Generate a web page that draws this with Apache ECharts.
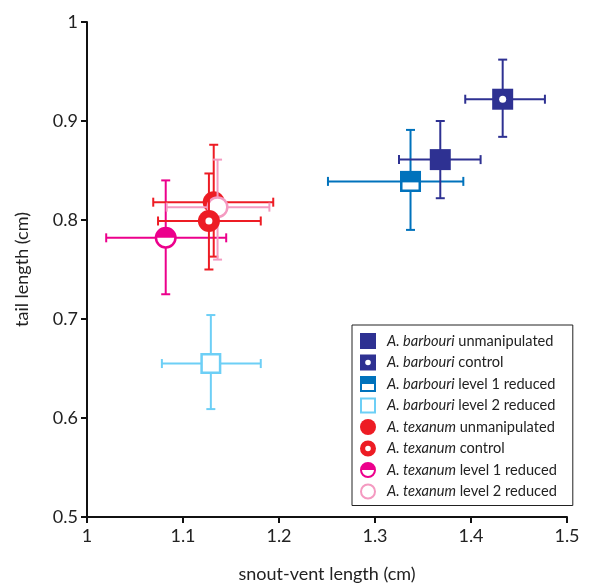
<!DOCTYPE html>
<html>
<head>
<meta charset="utf-8">
<script src="https://cdn.jsdelivr.net/npm/echarts@6/dist/echarts.min.js"></script>
<style>
  html, body { margin: 0; background: #fff; }
  #chart { width: 597px; height: 588px; }
</style>
</head>
<body>
<div id="chart"></div>
<script>
// legend order
var groupNames = [
  'A. barbouri unmanipulated',
  'A. barbouri control',
  'A. barbouri level 1 reduced',
  'A. barbouri level 2 reduced',
  'A. texanum unmanipulated',
  'A. texanum control',
  'A. texanum level 1 reduced',
  'A. texanum level 2 reduced'
]
// snout-vent length (cm): mean and error bar ends
var svlMean = [1.368, 1.433, 1.337, 1.129, 1.132, 1.127, 1.082, 1.136]
var svlLow = [1.325, 1.394, 1.251, 1.078, 1.069, 1.074, 1.020, 1.083]
var svlHigh = [1.410, 1.477, 1.392, 1.181, 1.194, 1.181, 1.145, 1.190]
// tail length (cm): mean and error bar ends
var tailMean = [0.861, 0.922, 0.839, 0.655, 0.818, 0.799, 0.782, 0.813]
var tailLow = [0.822, 0.884, 0.790, 0.609, 0.763, 0.750, 0.725, 0.760]
var tailHigh = [0.900, 0.962, 0.891, 0.704, 0.876, 0.847, 0.840, 0.861]

var colors = ['#2e3192', '#2e3192', '#0072bc', '#6dcff6', '#ed1c24', '#ed1c24', '#ec008c', '#f49ac1']
var shapes = ['square', 'square', 'square', 'square', 'circle', 'circle', 'circle', 'circle']
var fills = ['full', 'dot', 'half', 'open', 'full', 'dot', 'half', 'open']
// drawing order (later = on top)
var drawOrder = [3, 2, 0, 1, 6, 4, 7, 5]

// legend icons, 20x20 box, holes via opposite winding
var ring = 'M0,0L20,0L20,20L0,20Z M2.5,2.5L2.5,17.5L17.5,17.5L17.5,2.5Z'
var cring = 'M10,0A10,10 0 1,1 10,20A10,10 0 1,1 10,0Z M10,2.5A7.5,7.5 0 1,0 10,17.5A7.5,7.5 0 1,0 10,2.5Z'
var icons = {
  'square-full': 'path://M0,0L20,0L20,20L0,20Z',
  'square-dot': 'path://M0,0L20,0L20,20L0,20Z M10,6.5A3.5,3.5 0 1,0 10,13.5A3.5,3.5 0 1,0 10,6.5Z',
  'square-half': 'path://' + ring + ' M2.5,2.5L17.5,2.5L17.5,10L2.5,10Z',
  'square-open': 'path://' + ring,
  'circle-full': 'circle',
  'circle-dot': 'path://M10,0A10,10 0 1,1 10,20A10,10 0 1,1 10,0Z M10,6.5A3.5,3.5 0 1,0 10,13.5A3.5,3.5 0 1,0 10,6.5Z',
  'circle-half': 'path://' + cring + ' M2.5,10A7.5,7.5 0 0,1 17.5,10Z',
  'circle-open': 'path://' + cring
}

var FONT = 'Lato'

function markerShapes (k, c, color) {
  var s = 21
  var h = s / 2
  var lw = 2.5
  var out = []
  if (shapes[k] === 'square') {
    if (fills[k] === 'full' || fills[k] === 'dot') {
      out.push({ type: 'rect', shape: { x: c[0] - h, y: c[1] - h, width: s, height: s }, style: { fill: color } })
    } else {
      out.push({ type: 'rect', shape: { x: c[0] - h + lw / 2, y: c[1] - h + lw / 2, width: s - lw, height: s - lw }, style: { fill: '#fff', stroke: color, lineWidth: lw } })
      if (fills[k] === 'half') {
        out.push({ type: 'rect', shape: { x: c[0] - h, y: c[1] - h, width: s, height: h + 1 }, style: { fill: color } })
      }
    }
  } else {
    var r = 11
    if (fills[k] === 'full' || fills[k] === 'dot') {
      out.push({ type: 'circle', shape: { cx: c[0], cy: c[1], r: r }, style: { fill: color } })
    } else {
      out.push({ type: 'circle', shape: { cx: c[0], cy: c[1], r: r - lw / 2 }, style: { fill: '#fff', stroke: color, lineWidth: lw } })
      if (fills[k] === 'half') {
        out.push({ type: 'sector', shape: { cx: c[0], cy: c[1], r0: 0, r: r - lw / 2, startAngle: Math.PI, endAngle: Math.PI * 2, clockwise: true }, style: { fill: color } })
      }
    }
  }
  if (fills[k] === 'dot') {
    out.push({ type: 'circle', shape: { cx: c[0], cy: c[1], r: 3.5 }, style: { fill: '#fff' } })
  }
  return out
}

function makeRender (k) {
  return function (params, api) {
    var color = colors[k]
    var c = api.coord([api.value(0), api.value(1)])
    var xl = api.coord([api.value(2), api.value(1)])
    var xh = api.coord([api.value(3), api.value(1)])
    var yl = api.coord([api.value(0), api.value(4)])
    var yh = api.coord([api.value(0), api.value(5)])
    var cap = 4.5
    var ls = { stroke: color, lineWidth: 2 }
    var children = [
      { type: 'line', shape: { x1: xl[0], y1: c[1], x2: xh[0], y2: c[1] }, style: ls },
      { type: 'line', shape: { x1: xl[0], y1: c[1] - cap, x2: xl[0], y2: c[1] + cap }, style: ls },
      { type: 'line', shape: { x1: xh[0], y1: c[1] - cap, x2: xh[0], y2: c[1] + cap }, style: ls },
      { type: 'line', shape: { x1: c[0], y1: yl[1], x2: c[0], y2: yh[1] }, style: ls },
      { type: 'line', shape: { x1: c[0] - cap, y1: yl[1], x2: c[0] + cap, y2: yl[1] }, style: ls },
      { type: 'line', shape: { x1: c[0] - cap, y1: yh[1], x2: c[0] + cap, y2: yh[1] }, style: ls }
    ]
    return { type: 'group', children: children.concat(markerShapes(k, c, color)) }
  }
}

var series = drawOrder.map(function (k) {
  return {
    name: groupNames[k],
    type: 'custom',
    itemStyle: { color: colors[k] },
    renderItem: makeRender(k),
    encode: { x: 0, y: 1 },
    data: [[svlMean[k], tailMean[k], svlLow[k], svlHigh[k], tailLow[k], tailHigh[k]]]
  }
})

var legendData = groupNames.map(function (n, k) {
  return { name: n, icon: icons[shapes[k] + '-' + fills[k]], itemStyle: { color: colors[k], borderWidth: 0 } }
})

var chart = echarts.init(document.getElementById('chart'))
chart.setOption({
  animation: false,
  grid: { left: 87, right: 30, top: 22, bottom: 71, outerBoundsMode: 'none' },
  legend: {
    data: legendData,
    orient: 'vertical',
    left: 352,
    top: 325,
    padding: [8, 16, 6, 8],
    itemWidth: 16,
    itemHeight: 16,
    itemGap: 5.5,
    borderColor: '#222',
    borderWidth: 1,
    selectedMode: false,
    formatter: function (name) {
      var p = name.split(' ')
      return '{i|' + p[0] + ' ' + p[1] + '} ' + p.slice(2).join(' ')
    },
    textStyle: {
      fontFamily: FONT,
      fontSize: 14.6,
      color: '#222',
      padding: [0, 0, 0, 6],
      rich: { i: { fontFamily: FONT, fontSize: 14.6, fontStyle: 'italic', color: '#222' } }
    }
  },
  xAxis: {
    type: 'value',
    min: 1,
    max: 1.5,
    interval: 0.1,
    name: 'snout-vent length (cm)',
    nameLocation: 'middle',
    nameGap: 48,
    nameTextStyle: { fontFamily: FONT, fontSize: 18, color: '#222' },
    axisLine: { onZero: false, lineStyle: { color: '#111', width: 2 } },
    axisTick: { length: 6, lineStyle: { color: '#111', width: 2 } },
    splitLine: { show: false },
    axisLabel: { fontFamily: FONT, fontSize: 18, color: '#222', margin: 10 }
  },
  yAxis: {
    type: 'value',
    min: 0.5,
    max: 1,
    interval: 0.1,
    name: 'tail length (cm)',
    nameLocation: 'middle',
    nameGap: 56,
    nameTextStyle: { fontFamily: FONT, fontSize: 18, color: '#222' },
    axisLine: { show: true, onZero: false, lineStyle: { color: '#111', width: 2 } },
    axisTick: { show: true, length: 6, lineStyle: { color: '#111', width: 2 } },
    splitLine: { show: false },
    axisLabel: { fontFamily: FONT, fontSize: 18, color: '#222', margin: 9 }
  },
  series: series
})
</script>
</body>
</html>
